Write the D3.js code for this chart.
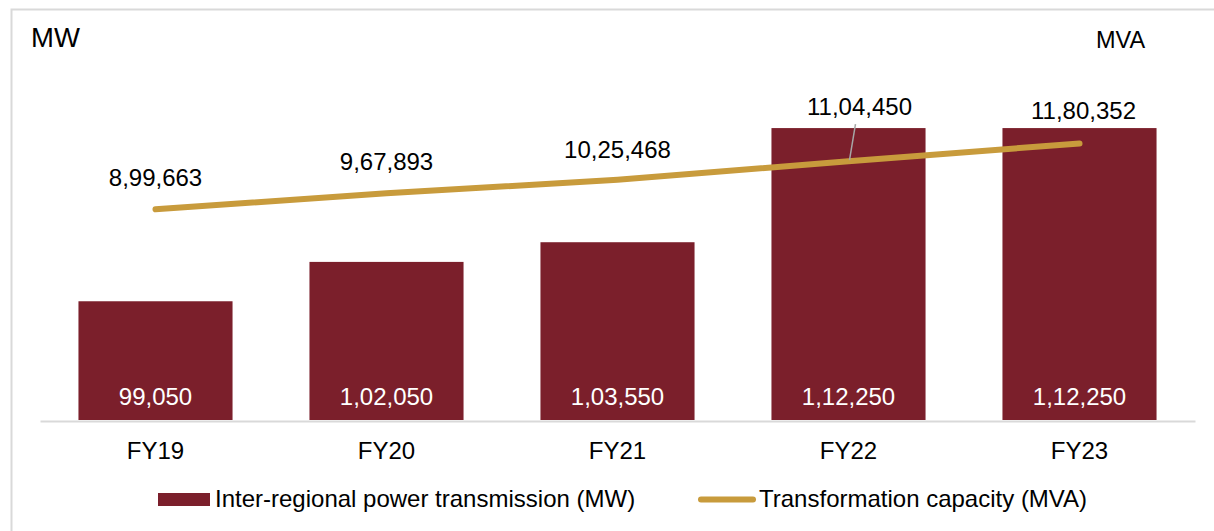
<!DOCTYPE html>
<html>
<head>
<meta charset="utf-8">
<script src="https://cdn.jsdelivr.net/npm/d3@7"></script>
<style>
  body { margin: 0; background: #fff; }
  svg text { font-family: "Liberation Sans", Arial, sans-serif; }
</style>
</head>
<body>
<script>
var w = 1214;
var h = 531;

// data
var years = ["FY19", "FY20", "FY21", "FY22", "FY23"];
var transmissionMW = [99050, 102050, 103550, 112250, 112250];
var capacityMVA = [899663, 967893, 1025468, 1104450, 1180352];
var seriesNames = ["Inter-regional power transmission (MW)", "Transformation capacity (MVA)"];

var barColor = "#7b1f2b";
var lineColor = "#c89b3c";
var fontSize = "24px";

// Indian digit grouping, e.g. 11,80,352
function indianFormat(n) {
    var s = String(Math.round(n));
    if (s.length <= 3) return s;
    var last3 = s.slice(-3);
    var rest = s.slice(0, -3);
    rest = rest.replace(/\B(?=(\d{2})+(?!\d))/g, ",");
    return rest + "," + last3;
}

var data = years.map(function(y, i) {
    return { year: y, mw: transmissionMW[i], mva: capacityMVA[i] };
});

var svg = d3.select("body")
    .append("svg")
    .attr("width", w)
    .attr("height", h);

// outer frame
svg.append("rect")
    .attr("x", 11.5)
    .attr("y", 9.5)
    .attr("width", w + 10)
    .attr("height", h + 10)
    .attr("fill", "none")
    .attr("stroke", "#d9d9d9")
    .attr("stroke-width", 2);

// scales
var xScale = d3.scaleBand()
    .domain(years)
    .range([40, 1195])
    .paddingInner(0.333)
    .paddingOuter(0.1665);

var yLeft = d3.scaleLinear()
    .domain([90000, 115000])
    .range([420, 92]);

var yRight = d3.scaleLinear()
    .domain([0, 1400000])
    .range([420, 92]);

// bars
svg.selectAll("rect.bar")
    .data(data)
    .enter()
    .append("rect")
    .attr("class", "bar")
    .attr("x", function(d) { return xScale(d.year); })
    .attr("y", function(d) { return yLeft(d.mw); })
    .attr("width", xScale.bandwidth())
    .attr("height", function(d) { return yLeft.range()[0] - yLeft(d.mw); })
    .attr("fill", barColor);

// bar value labels
svg.selectAll("text.barlabel")
    .data(data)
    .enter()
    .append("text")
    .attr("class", "barlabel")
    .attr("x", function(d) { return xScale(d.year) + xScale.bandwidth() / 2; })
    .attr("y", 405)
    .attr("text-anchor", "middle")
    .attr("font-size", fontSize)
    .attr("fill", "#fff")
    .text(function(d) { return indianFormat(d.mw); });

// x axis
var xAxis = d3.axisBottom(xScale).tickSize(0).tickPadding(21);
var gx = svg.append("g")
    .attr("transform", "translate(0,421)")
    .call(xAxis);
gx.select(".domain").attr("stroke", "#d9d9d9").attr("stroke-width", 2);
gx.selectAll("text")
    .attr("font-size", fontSize)
    .attr("fill", "#000")
    .style("font-family", "'Liberation Sans', Arial, sans-serif");

// line
var line = d3.line()
    .x(function(d) { return xScale(d.year) + xScale.bandwidth() / 2; })
    .y(function(d) { return yRight(d.mva); });

svg.append("path")
    .datum(data)
    .attr("d", line)
    .attr("fill", "none")
    .attr("stroke", lineColor)
    .attr("stroke-width", 6)
    .attr("stroke-linecap", "round");

// line labels (last two pushed above the bars in the original)
var labelLift = [23, 23, 22, 46, 24];
var labelShift = [0, 0, 0, 11, 4];

// leader line for FY22
var i22 = 3;
var cx22 = xScale(years[i22]) + xScale.bandwidth() / 2;
svg.append("line")
    .attr("x1", cx22 + 1)
    .attr("y1", yRight(capacityMVA[i22]) - 1)
    .attr("x2", cx22 + 7)
    .attr("y2", yRight(capacityMVA[i22]) - 37)
    .attr("stroke", "#a6a6a6")
    .attr("stroke-width", 1.5);

svg.selectAll("text.linelabel")
    .data(data)
    .enter()
    .append("text")
    .attr("class", "linelabel")
    .attr("x", function(d, i) { return xScale(d.year) + xScale.bandwidth() / 2 + labelShift[i]; })
    .attr("y", function(d, i) { return yRight(d.mva) - labelLift[i]; })
    .attr("text-anchor", "middle")
    .attr("font-size", fontSize)
    .attr("fill", "#000")
    .text(function(d) { return indianFormat(d.mva); });

// unit titles
svg.append("text")
    .attr("x", 31)
    .attr("y", 47)
    .attr("font-size", "27.5px")
    .attr("fill", "#000")
    .text("MW");

svg.append("text")
    .attr("x", 1096)
    .attr("y", 48)
    .attr("font-size", "23.5px")
    .attr("fill", "#000")
    .text("MVA");

// legend
var legend = svg.append("g");
legend.append("rect")
    .attr("x", 158)
    .attr("y", 493)
    .attr("width", 52)
    .attr("height", 13)
    .attr("fill", barColor);
legend.append("text")
    .attr("x", 215)
    .attr("y", 507)
    .attr("font-size", fontSize)
    .attr("fill", "#000")
    .text(seriesNames[0]);

legend.append("line")
    .attr("x1", 701)
    .attr("x2", 753)
    .attr("y1", 499.5)
    .attr("y2", 499.5)
    .attr("stroke", lineColor)
    .attr("stroke-width", 6)
    .attr("stroke-linecap", "round");
legend.append("text")
    .attr("x", 759)
    .attr("y", 507)
    .attr("font-size", fontSize)
    .attr("fill", "#000")
    .text(seriesNames[1]);
</script>
</body>
</html>
